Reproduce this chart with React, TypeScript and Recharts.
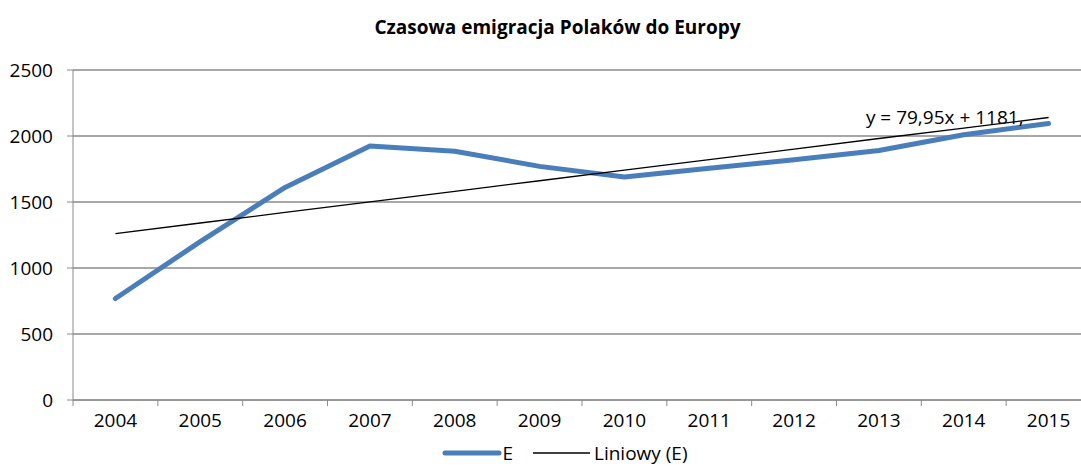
import { CartesianGrid, Legend, Line, LineChart, XAxis, YAxis } from "recharts";

const years = ["2004", "2005", "2006", "2007", "2008", "2009", "2010", "2011", "2012", "2013", "2014", "2015"];
const emigration = [769, 1200, 1610, 1925, 1885, 1770, 1690, 1755, 1820, 1890, 2010, 2095];
// linear trend from the picture's equation label, one value per year
const trend = [1261, 1341, 1421, 1501, 1581, 1661, 1741, 1821, 1901, 1981, 2060, 2140];
const yTicks = [0, 500, 1000, 1500, 2000, 2500];
const trendLabel = "y = 79,95x + 1181,";

const data = years.map((year, i) => ({ year, E: emigration[i], trend: trend[i] }));

const FONT = "'Open Sans', sans-serif";
const GRID = "#8a8a8a";
const BLUE = "#4a7ebb";
const CHART_W = 1115;
const PLOT_LEFT = 73;
const PLOT_RIGHT = 1091;
const HALF = (PLOT_RIGHT - PLOT_LEFT) / years.length / 2;

function YearTick(props: any) {
  const { x, y, payload, index } = props;
  const axisY = y - 14;
  return (
    <g>
      <line x1={x - HALF} x2={x - HALF} y1={axisY} y2={axisY + 6} stroke={GRID} />
      {index === years.length - 1 && (
        <line x1={x + HALF} x2={x + HALF} y1={axisY} y2={axisY + 6} stroke={GRID} />
      )}
      <text x={x} y={y} dy="0.71em" textAnchor="middle" fontSize={19} fontFamily={FONT} fill="#000">
        {payload.value}
      </text>
    </g>
  );
}

function TrendLabel(props: any) {
  const { x, y, index } = props;
  if (index !== years.length - 1) return null;
  return (
    <text x={x - 25} y={y + 6} textAnchor="end" fontSize={19} fontFamily={FONT} fill="#000">
      {trendLabel}
    </text>
  );
}

function ChartLegend() {
  return (
    <div style={{ display: "flex", alignItems: "center", justifyContent: "center", fontFamily: FONT, fontSize: 19, height: 24, lineHeight: "24px" }}>
      <svg width={60} height={8}>
        <line x1={3} x2={57} y1={4} y2={4} stroke={BLUE} strokeWidth={5} strokeLinecap="round" />
      </svg>
      <span style={{ marginRight: 20 }}>E</span>
      <svg width={58} height={8}>
        <line x1={0} x2={57} y1={4} y2={4} stroke="#000" strokeWidth={1.3} />
      </svg>
      <span style={{ marginLeft: 3 }}>Liniowy (E)</span>
    </div>
  );
}

export default function App() {
  return (
    <div style={{ position: "fixed", left: 0, top: 0, width: 1081, height: 468, overflow: "hidden", background: "#fff" }}>
      <div
        style={{
          position: "absolute",
          left: 0,
          top: 14,
          width: CHART_W,
          textAlign: "center",
          fontFamily: FONT,
          fontWeight: 700,
          fontSize: 19,
          color: "#000",
        }}
      >
        Czasowa emigracja Polaków do Europy
      </div>
      <LineChart width={CHART_W} height={480} data={data} margin={{ top: 70, right: CHART_W - PLOT_RIGHT, left: 0, bottom: 15 }}>
        <CartesianGrid vertical={false} stroke={GRID} strokeWidth={1.3} />
        <XAxis
          dataKey="year"
          height={41}
          padding={{ left: HALF, right: HALF }}
          stroke={GRID}
          tickLine={false}
          tickSize={6}
          tickMargin={8}
          interval={0}
          tick={<YearTick />}
        />
        <YAxis
          width={PLOT_LEFT}
          domain={[0, 2500]}
          ticks={yTicks}
          stroke={GRID}
          tickSize={6}
          tickMargin={14}
          tick={{ fontSize: 19, fontFamily: FONT, fill: "#000" }}
        />
        <Legend verticalAlign="bottom" content={<ChartLegend />} wrapperStyle={{ left: 0, width: 1130 }} />
        <Line
          dataKey="E"
          stroke={BLUE}
          strokeWidth={5}
          strokeLinecap="round"
          strokeLinejoin="round"
          dot={false}
          isAnimationActive={false}
        />
        <Line
          dataKey="trend"
          stroke="#000"
          strokeWidth={1.3}
          dot={false}
          label={<TrendLabel />}
          isAnimationActive={false}
        />
      </LineChart>
    </div>
  );
}
